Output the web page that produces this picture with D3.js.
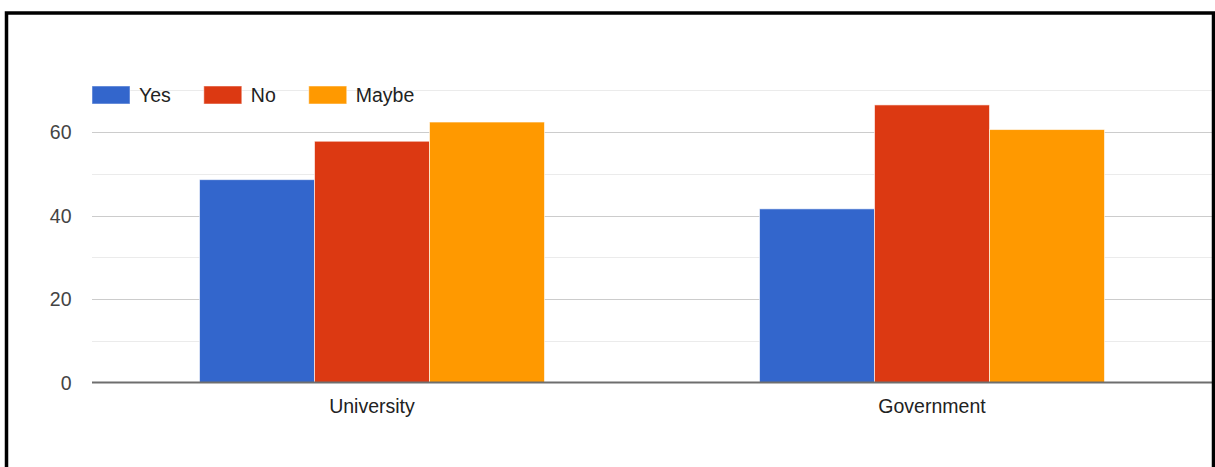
<!DOCTYPE html>
<html>
<head>
<meta charset="utf-8">
<script src="https://cdn.jsdelivr.net/npm/d3@7/dist/d3.min.js"></script>
<style>
  html, body { margin: 0; padding: 0; background: #fff; }
  svg { display: block; font-family: "Liberation Sans", Arial, sans-serif; }
</style>
</head>
<body>
<svg id="chart" width="1215" height="467"></svg>
<script>
const categories = ["University", "Government"];
const seriesNames = ["Yes", "No", "Maybe"];
const seriesColors = ["#3366cc", "#dc3912", "#ff9900"];
const yesValues = [48.6, 41.6];
const noValues = [57.8, 66.5];
const maybeValues = [62.4, 60.6];
const majorTicks = [0, 20, 40, 60];
const minorTicks = [10, 30, 50, 70];

const seriesValues = [yesValues, noValues, maybeValues];
const data = categories.map((c, i) => ({
  category: c,
  values: seriesNames.map((s, j) => ({ series: s, value: seriesValues[j][i], color: seriesColors[j] }))
}));

const svg = d3.select("#chart");
const plot = { left: 92, right: 1212, top: 90.3, bottom: 382.5 };

const y = d3.scaleLinear().domain([0, 70]).range([plot.bottom, plot.top]);
const x0 = d3.scaleBand().domain(categories).range([plot.left, plot.right]).paddingInner(0).paddingOuter(0);
const x1 = d3.scaleBand().domain(seriesNames).range([0, x0.bandwidth()]).paddingInner(0).paddingOuter(0.935);

// gridlines
svg.append("g").selectAll("line").data(minorTicks).join("line")
  .attr("x1", plot.left).attr("x2", plot.right)
  .attr("y1", d => Math.round(y(d)) + 0.5).attr("y2", d => Math.round(y(d)) + 0.5)
  .attr("stroke", "#ebebeb").attr("stroke-width", 1);
svg.append("g").selectAll("line").data(majorTicks.filter(d => d !== 0)).join("line")
  .attr("x1", plot.left).attr("x2", plot.right)
  .attr("y1", d => Math.round(y(d)) + 0.5).attr("y2", d => Math.round(y(d)) + 0.5)
  .attr("stroke", "#cccccc").attr("stroke-width", 1);

// y labels
svg.append("g").selectAll("text").data(majorTicks).join("text")
  .attr("x", 71.5).attr("y", d => y(d) + 7)
  .attr("text-anchor", "end")
  .attr("font-size", "19.5px").attr("fill", "#444")
  .text(d => d);

// bars
const groups = svg.append("g").selectAll("g").data(data).join("g")
  .attr("transform", d => `translate(${x0(d.category)},0)`);
groups.selectAll("rect").data(d => d.values).join("rect")
  .attr("x", d => x1(d.series))
  .attr("y", d => y(d.value))
  .attr("width", x1.bandwidth())
  .attr("height", d => y(0) - y(d.value))
  .attr("fill", d => d.color)
  .attr("stroke", "#ffffff").attr("stroke-opacity", 0.6).attr("stroke-width", 1);

// baseline
svg.append("line")
  .attr("x1", plot.left).attr("x2", plot.right)
  .attr("y1", y(0)).attr("y2", y(0))
  .attr("stroke", "#6e6e6e").attr("stroke-width", 2);

// x labels
svg.append("g").selectAll("text").data(categories).join("text")
  .attr("x", d => x0(d) + x0.bandwidth() / 2).attr("y", 413)
  .attr("text-anchor", "middle")
  .attr("font-size", "19.5px").attr("fill", "#222")
  .text(d => d);

// legend
const legend = svg.append("g");
let lx = 92;
seriesNames.forEach((s, i) => {
  legend.append("rect")
    .attr("x", lx).attr("y", 86).attr("width", 38).attr("height", 18)
    .attr("fill", seriesColors[i])
    .attr("stroke", "#ffffff").attr("stroke-opacity", 0.5).attr("stroke-width", 1);
  const t = legend.append("text")
    .attr("x", lx + 47).attr("y", 102)
    .attr("font-size", "19.5px").attr("fill", "#222")
    .text(s);
  lx += 47 + t.node().getComputedTextLength() + 33;
});

// frame border
svg.append("path")
  .attr("d", "M6.5,520 V13 H1213.5 V520")
  .attr("fill", "none").attr("stroke", "#000").attr("stroke-width", 3.5);
</script>
</body>
</html>
